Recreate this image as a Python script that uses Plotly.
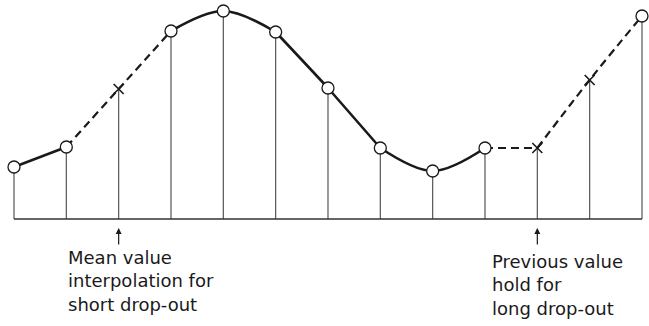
import plotly.graph_objects as go

# sample index and sample heights (arbitrary units, baseline = 0)
samples = list(range(13))
values = [52, 72, 130, 188, 208, 187, 131, 71, 48, 71, 71, 139, 203]
# which samples are real (circle) and which are reconstructed (cross)
measured = [True, True, False, True, True, True, True, True, True, True, False, False, True]
solid_curved = [[0, 1], [3, 4, 5], [7, 8, 9]]
solid_straight = [[5, 6, 7]]
dashed_segments = [[1, 2, 3], [9, 10], [10, 11, 12]]
labels = ["Mean value<br>interpolation for<br>short drop-out",
          "Previous value<br>hold for<br>long drop-out"]
label_samples = [2, 10]

INK = "#1a1a1a"
STEM = "#555555"

fig = go.Figure()

# stems
for s, v in zip(samples, values):
    fig.add_trace(go.Scatter(x=[s, s], y=[0, v], mode="lines",
                             line=dict(color=STEM, width=1.2), hoverinfo="skip"))
# baseline
fig.add_trace(go.Scatter(x=[samples[0], samples[-1]], y=[0, 0], mode="lines",
                         line=dict(color="#333333", width=1.6), hoverinfo="skip"))

for seg in solid_curved:
    fig.add_trace(go.Scatter(x=[samples[i] for i in seg], y=[values[i] for i in seg],
                             mode="lines", line=dict(color=INK, width=2.6, shape="spline", smoothing=1.0)))
for seg in solid_straight:
    fig.add_trace(go.Scatter(x=[samples[i] for i in seg], y=[values[i] for i in seg],
                             mode="lines", line=dict(color=INK, width=2.6, shape="spline", smoothing=0.3)))
for seg in dashed_segments:
    fig.add_trace(go.Scatter(x=[samples[i] for i in seg], y=[values[i] for i in seg],
                             mode="lines", line=dict(color=INK, width=2.2, dash="8px,5px",
                                                     shape="spline", smoothing=1.3)))

# markers
fig.add_trace(go.Scatter(x=[s for s, m in zip(samples, measured) if m],
                         y=[v for v, m in zip(values, measured) if m],
                         mode="markers",
                         marker=dict(symbol="circle", size=12, color="white",
                                     line=dict(color=INK, width=1.3))))
fig.add_trace(go.Scatter(x=[s for s, m in zip(samples, measured) if not m],
                         y=[v for v, m in zip(values, measured) if not m],
                         mode="markers",
                         marker=dict(symbol="x-thin", size=10, color=INK,
                                     line=dict(color=INK, width=1.6))))

# arrows and text
for txt, s, xoff, ymid in zip(labels, label_samples, [-1.0, -0.9], [-62, -66]):
    fig.add_annotation(x=s, y=-9, ax=0, ay=18, xref="x", yref="y", text="",
                       showarrow=True, arrowhead=2, arrowsize=1.0, arrowwidth=1.2,
                       arrowcolor=INK)
    fig.add_annotation(x=s + xoff, y=ymid, xref="x", yref="y", text=txt,
                       showarrow=False, xanchor="left", yanchor="middle", align="left",
                       font=dict(family="DejaVu Sans", size=18, color=INK))

fig.update_layout(width=649, height=326, margin=dict(l=0, r=0, t=0, b=0),
                  paper_bgcolor="white", plot_bgcolor="white", showlegend=False,
                  hovermode=False,
                  xaxis=dict(range=[-0.2675, 12.134], visible=False, fixedrange=True),
                  yaxis=dict(range=[-107, 219], visible=False, fixedrange=True))

fig.write_html("out.html", config={"displayModeBar": False, "staticPlot": True},
               post_script="document.body.style.margin='0';document.body.style.padding='0';document.body.style.overflow='hidden';")
